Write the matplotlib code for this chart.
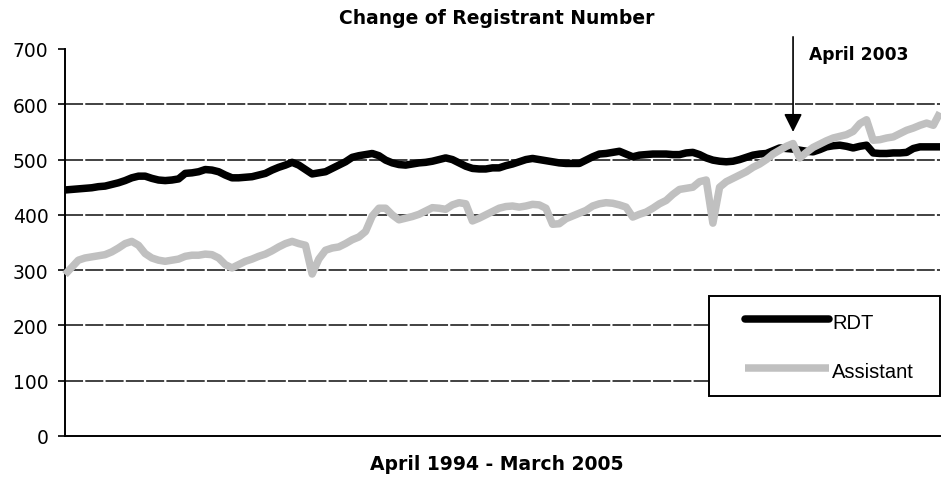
import matplotlib
matplotlib.use("Agg")
import matplotlib.pyplot as plt
import pandas as pd
from matplotlib.patches import Rectangle
from matplotlib.lines import Line2D

plt.rcParams['lines.scale_dashes'] = False

# Monthly categories April 1994 - March 2005
months = pd.date_range('1994-04-01', '2005-03-01', freq='MS')

rdt = [445, 446, 447, 448, 449, 451, 452, 455, 458, 462,
       467, 470, 470, 466, 463, 462, 463, 465, 475, 476,
       478, 482, 481, 478, 472, 467, 467, 468, 469, 472,
       475, 481, 486, 490, 495, 490, 482, 474, 476, 478,
       484, 490, 496, 504, 507, 509, 511, 507, 499, 494,
       491, 490, 492, 494, 495, 497, 500, 503, 500, 494,
       488, 484, 483, 483, 485, 485, 489, 492, 496, 500,
       502, 500, 498, 496, 494, 493, 493, 493, 499, 505,
       510, 511, 513, 515, 510, 505, 508, 509, 510, 510,
       510, 509, 509, 512, 513, 509, 503, 499, 497, 496,
       497, 500, 504, 508, 510, 511, 516, 521, 520, 519,
       517, 515, 514, 518, 523, 525, 526, 524, 521, 524,
       526, 512, 511, 511, 512, 512, 513, 520, 523, 523,
       523, 523]

assistant = [292, 305, 318, 322, 324, 326, 328, 333, 340, 348,
             352, 345, 330, 322, 318, 316, 318, 320, 325, 327,
             327, 329, 328, 322, 310, 304, 310, 316, 320, 325,
             329, 335, 342, 348, 352, 348, 345, 293, 320, 336,
             340, 342, 348, 355, 360, 370, 398, 412, 412, 400,
             391, 394, 397, 401, 407, 413, 412, 410, 418, 422,
             420, 389, 394, 400, 406, 412, 415, 416, 414, 416,
             419, 418, 412, 383, 384, 393, 398, 403, 408, 416,
             420, 422, 421, 418, 414, 396, 401, 405, 412, 420,
             426, 437, 446, 448, 450, 460, 463, 385, 450, 460,
             466, 472, 478, 486, 492, 500, 510, 517, 524, 529,
             503, 513, 522, 528, 534, 539, 542, 545, 551, 565,
             572, 535, 536, 539, 541, 547, 553, 557, 562, 566,
             562, 585]

series_names = ['RDT', 'Assistant']
series_colors = ['#000000', '#C0C0C0']
yticks = [0, 100, 200, 300, 400, 500, 600, 700]
title = 'Change of Registrant Number'
xlabel = 'April 1994 - March 2005'
marker_month = pd.Timestamp('2003-05-01')
marker_label = 'April 2003'

W, H = 941, 481
fig = plt.figure(figsize=(W / 100, H / 100), dpi=100)
L, R, T, B = 65, 940, 50, 437
ax = fig.add_axes([L / W, 1 - B / H, (R - L) / W, (B - T) / H])

x = list(range(len(months)))
ax.plot(x, rdt, color=series_colors[0], lw=5.4, solid_joinstyle='round',
        solid_capstyle='butt', zorder=3, clip_on=False)
ax.plot(x, assistant, color=series_colors[1], lw=5.4, solid_joinstyle='round',
        solid_capstyle='butt', zorder=4, clip_on=False)

ax.set_xlim(0, len(months) - 1)
ax.set_ylim(0, 700)
ax.set_yticks(yticks)
ax.set_yticklabels([str(v) for v in yticks], fontsize=13.5, family='DejaVu Sans')
ax.set_xticks([])
ax.hlines(yticks[1:-1], 0, len(months) - 1, colors='#333333', lw=1.3,
          linestyles=[(0, (13, 1.6))], zorder=1)

for s in ['top', 'right']:
    ax.spines[s].set_visible(False)
ax.spines['left'].set_linewidth(1.4)
ax.spines['bottom'].set_linewidth(1.4)
ax.tick_params(axis='y', length=5, width=1.2, pad=7, direction='out')

fig.text(497 / W, 1 - 19 / H, title, ha='center', va='center',
         fontsize=13.5, fontweight='bold', family='DejaVu Sans')
fig.text(497 / W, 1 - 465 / H, xlabel, ha='center', va='center',
         fontsize=13.5, fontweight='bold', family='DejaVu Sans')

# Arrow marking April 2003
mi = list(months).index(marker_month)
ax.annotate('', xy=(mi, 550), xytext=(mi, 722), annotation_clip=False,
            arrowprops=dict(arrowstyle='-|>,head_length=1.1,head_width=0.55',
                            color='black', lw=1.2, shrinkA=0, shrinkB=0))
fig.text(809 / W, 1 - 55 / H, marker_label, ha='left', va='center',
         fontsize=12.3, fontweight='bold', family='DejaVu Sans')

# Legend box
lx0, lx1 = (709 - L) / (R - L), 1.0
ly0, ly1 = (B - 397) / (B - T), (B - 297) / (B - T)
ax.add_patch(Rectangle((lx0, ly0), lx1 - lx0, ly1 - ly0, transform=ax.transAxes,
                       facecolor='white', edgecolor='black', lw=1.4, zorder=5,
                       clip_on=False))
hx0, hx1 = (745 - L) / (R - L), (829 - L) / (R - L)
rows = [(B - 320) / (B - T), (B - 369) / (B - T)]
caps = ['round', 'butt']
for name, col, yy, cap in zip(series_names, series_colors, rows, caps):
    ax.add_line(Line2D([hx0, hx1], [yy, yy], transform=ax.transAxes, color=col,
                       lw=5.4, solid_capstyle=cap, zorder=6, clip_on=False))
    ax.text((832 - L) / (R - L), yy - 0.008, name, transform=ax.transAxes,
            ha='left', va='center', fontsize=14.5, family='Liberation Sans',
            zorder=7)

fig.savefig('out.png', dpi=100)
